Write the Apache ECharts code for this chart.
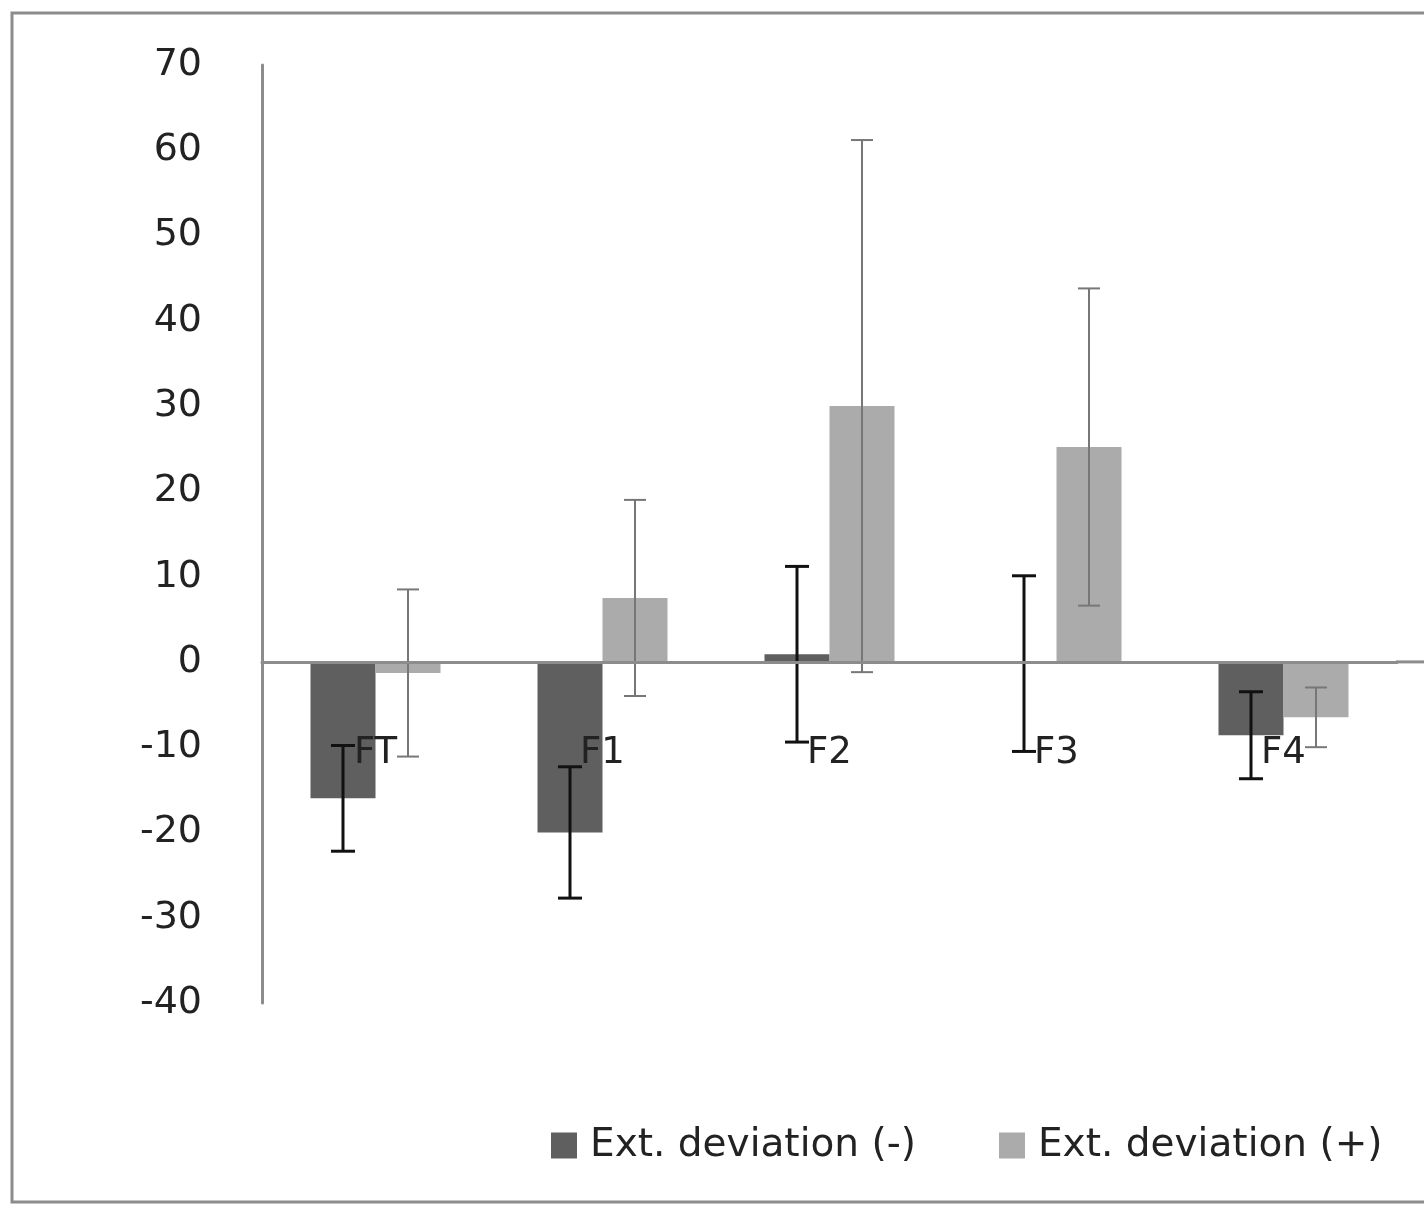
<!DOCTYPE html>
<html>
<head>
<meta charset="utf-8">
<script src="https://cdn.jsdelivr.net/npm/echarts@6/dist/echarts.min.js"></script>
<style>
html, body { margin: 0; padding: 0; background: #fff; }
#main { width: 1424px; height: 1205px; }
</style>
</head>
<body>
<div id="main"></div>
<script>
var categories = ['FT', 'F1', 'F2', 'F3', 'F4'];
var negValues = [-16.0, -20.0, 0.9, -0.2, -8.6];
var negErrors = [6.2, 7.7, 10.3, 10.3, 5.1];
var posValues = [-1.3, 7.5, 30.0, 25.2, -6.5];
var posErrors = [9.8, 11.5, 31.2, 18.6, 3.5];
var seriesNames = ['Ext. deviation (-)', 'Ext. deviation (+)'];

var myChart = echarts.init(document.getElementById('main'));

var fontFamily = 'DejaVu Sans';
var barW = 65;

function errorData(values, errors) {
    var out = [];
    for (var i = 0; i < values.length; i++) {
        out.push([i, values[i] - errors[i], values[i] + errors[i]]);
    }
    return out;
}

function errorRender(offset, color, width, cap) {
    return function (params, api) {
        var low = api.coord([api.value(0), api.value(1)]);
        var high = api.coord([api.value(0), api.value(2)]);
        var x = low[0] + offset;
        var style = { stroke: color, lineWidth: width };
        return {
            type: 'group',
            children: [
                { type: 'line', shape: { x1: x, y1: high[1], x2: x, y2: low[1] }, style: style },
                { type: 'line', shape: { x1: x - cap / 2, y1: high[1], x2: x + cap / 2, y2: high[1] }, style: style },
                { type: 'line', shape: { x1: x - cap / 2, y1: low[1], x2: x + cap / 2, y2: low[1] }, style: style }
            ]
        };
    };
}

var option = {
    animation: false,
    textStyle: { fontFamily: fontFamily },
    grid: {
        left: 262,
        right: 27,
        top: 65,
        bottom: 202
    },
    legend: {
        left: 546,
        top: 1121,
        itemWidth: 26,
        itemHeight: 26,
        itemGap: 83,
        icon: 'rect',
        data: seriesNames,
        textStyle: {
            fontFamily: fontFamily,
            fontSize: 39,
            color: '#222',
            padding: [0, 0, 0, 8]
        }
    },
    xAxis: {
        type: 'category',
        data: categories,
        z: 10,
        axisLine: { onZero: true, lineStyle: { color: '#8c8c8c', width: 3 } },
        axisTick: { show: false },
        axisLabel: {
            // labels sit just below the -10 level, as in the source
            margin: -268,
            fontSize: 37,
            color: '#222',
            fontFamily: fontFamily
        }
    },
    yAxis: {
        type: 'value',
        min: -40,
        max: 70,
        interval: 10,
        splitLine: { show: false },
        axisTick: { show: false },
        axisLine: { show: true, lineStyle: { color: '#8c8c8c', width: 3 } },
        axisLabel: {
            margin: 60,
            fontSize: 38,
            color: '#222',
            fontFamily: fontFamily
        }
    },
    series: [
        {
            name: seriesNames[0],
            type: 'bar',
            data: negValues,
            barWidth: barW,
            barGap: '0%',
            itemStyle: { color: '#5f5f5f' }
        },
        {
            name: seriesNames[1],
            type: 'bar',
            data: posValues,
            barWidth: barW,
            barGap: '0%',
            itemStyle: { color: '#ababab' }
        },
        {
            type: 'custom',
            name: 'err-neg',
            data: errorData(negValues, negErrors),
            renderItem: errorRender(-barW / 2, '#111', 3, 24),
            z: 5
        },
        {
            type: 'custom',
            name: 'err-pos',
            data: errorData(posValues, posErrors),
            renderItem: errorRender(barW / 2, '#777', 2, 22),
            z: 5
        }
    ]
};

myChart.setOption(option);

// outer chart border and the zero line running past the plot area
var zeroY = myChart.convertToPixel({ yAxisIndex: 0 }, 0);
myChart.setOption({
    graphic: [
        {
            type: 'rect',
            shape: { x: 12, y: 13, width: 1500, height: 1189 },
            style: { fill: 'none', stroke: '#8c8c8c', lineWidth: 3 },
            silent: true
        },
        {
            type: 'line',
            shape: { x1: 1396, y1: zeroY, x2: 1424, y2: zeroY },
            style: { stroke: '#8c8c8c', lineWidth: 3 },
            silent: true
        }
    ]
});
</script>
</body>
</html>
